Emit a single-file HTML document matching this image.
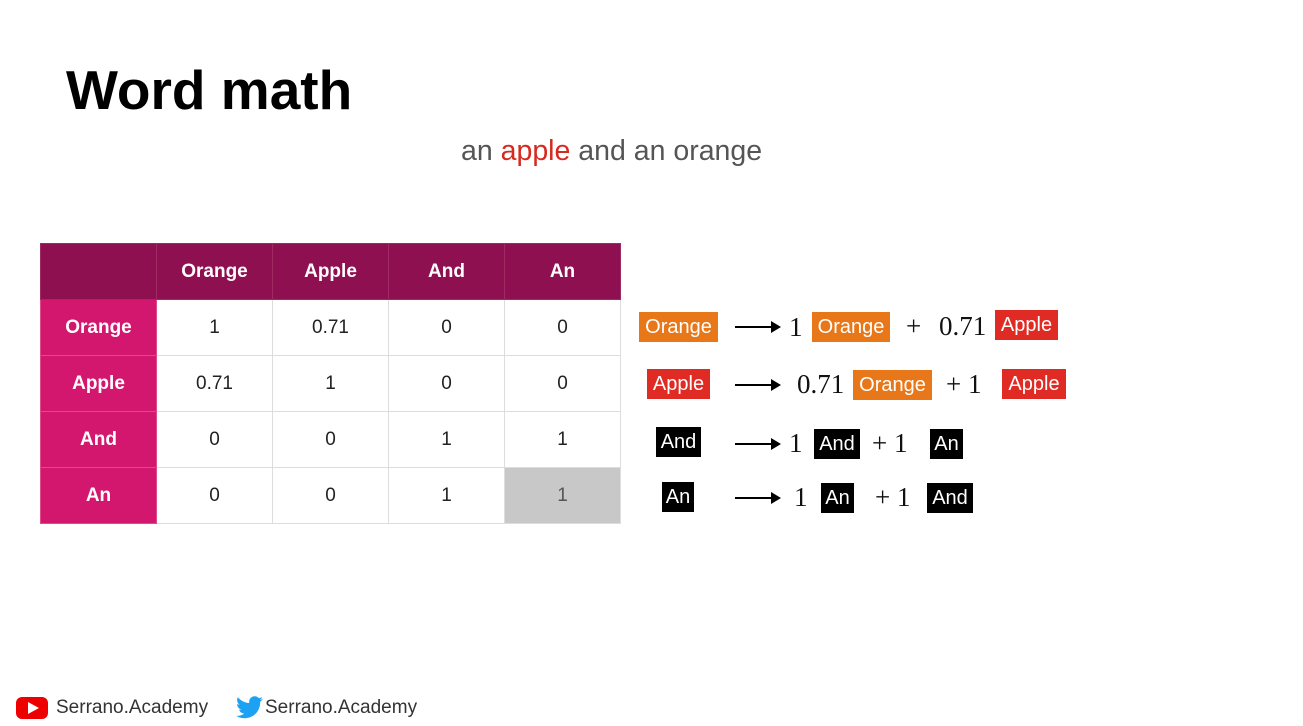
<!DOCTYPE html>
<html><head><meta charset="utf-8"><style>
body{margin:0;width:1303px;height:726px;background:#fff;position:relative;overflow:hidden;font-family:"Liberation Sans",Arial,sans-serif}
.a{position:absolute}
table{position:absolute;left:40px;top:243px;border-collapse:collapse;font-size:19px}
td{width:115px;height:55px;text-align:center;border:1px solid #ddd;padding:0;color:#222}
.h{background:#8e1050;color:#fff;font-weight:bold;border-color:#a02a62}
.r{background:#d4176e;color:#fff;font-weight:bold;border-color:#e04a88}
.g{background:#c8c8c8;color:#555}
.b{position:absolute;color:#fff;font-size:20px;height:30px;line-height:30px;text-align:center}
.o{background:#e8771a}.p{background:#e02a24}.k{background:#000}
.m{position:absolute;font-family:"Liberation Serif",serif;font-size:27px;color:#111;line-height:30px}
.ar{position:absolute;height:2px;width:38px;background:#000}
.ar:after{content:"";position:absolute;right:-8px;top:-5px;border-left:10px solid #000;border-top:6px solid transparent;border-bottom:6px solid transparent}
.f{position:absolute;top:697px;font-size:19px;color:#333}
</style></head><body>
<div class="a" style="left:66px;top:58px;font-size:55px;font-weight:bold;color:#000">Word math</div>
<div class="a" style="left:461px;top:135px;font-size:28.5px;color:#555">an <span style="color:#d42a20">apple</span> and an orange</div>
<table>
<tr><td class="h"></td><td class="h">Orange</td><td class="h">Apple</td><td class="h">And</td><td class="h">An</td></tr>
<tr><td class="r">Orange</td><td>1</td><td>0.71</td><td>0</td><td>0</td></tr>
<tr><td class="r">Apple</td><td>0.71</td><td>1</td><td>0</td><td>0</td></tr>
<tr><td class="r">And</td><td>0</td><td>0</td><td>1</td><td>1</td></tr>
<tr><td class="r">An</td><td>0</td><td>0</td><td>1</td><td class="g">1</td></tr>
</table>

<div class="b o" style="left:639px;top:312px;width:79px">Orange</div>
<div class="ar" style="left:735px;top:326px"></div>
<div class="m" style="left:789px;top:312px">1</div>
<div class="b o" style="left:812px;top:312px;width:78px">Orange</div>
<div class="m" style="left:906px;top:311px">+</div>
<div class="m" style="left:939px;top:311px">0.71</div>
<div class="b p" style="left:995px;top:310px;width:63px">Apple</div>

<div class="b p" style="left:647px;top:369px;width:63px">Apple</div>
<div class="ar" style="left:735px;top:384px"></div>
<div class="m" style="left:797px;top:369px">0.71</div>
<div class="b o" style="left:853px;top:370px;width:79px">Orange</div>
<div class="m" style="left:946px;top:369px">+ 1</div>
<div class="b p" style="left:1002px;top:369px;width:64px">Apple</div>

<div class="b k" style="left:656px;top:427px;width:45px">And</div>
<div class="ar" style="left:735px;top:443px"></div>
<div class="m" style="left:789px;top:428px">1</div>
<div class="b k" style="left:814px;top:429px;width:46px">And</div>
<div class="m" style="left:872px;top:428px">+ 1</div>
<div class="b k" style="left:930px;top:429px;width:33px">An</div>

<div class="b k" style="left:662px;top:482px;width:32px">An</div>
<div class="ar" style="left:735px;top:497px"></div>
<div class="m" style="left:794px;top:482px">1</div>
<div class="b k" style="left:821px;top:483px;width:33px">An</div>
<div class="m" style="left:875px;top:482px">+ 1</div>
<div class="b k" style="left:927px;top:483px;width:46px">And</div>

<div class="a" style="left:16px;top:697px;width:32px;height:22px;background:#e00;border-radius:6px"></div>
<div class="a" style="left:28px;top:702px;border-left:11px solid #fff;border-top:6px solid transparent;border-bottom:6px solid transparent"></div>
<div class="f" style="left:56px">Serrano.Academy</div>
<svg class="a" style="left:236px;top:696px" width="27" height="23" viewBox="0 0 24 20"><path fill="#1da1f2" d="M24 2.4c-.9.4-1.8.7-2.8.8 1-.6 1.8-1.6 2.2-2.7-1 .6-2 1-3.1 1.2C19.4.7 18.1 0 16.6 0c-2.7 0-4.9 2.2-4.9 4.9 0 .4 0 .8.1 1.1C7.7 5.8 4.1 3.9 1.7.9c-.4.7-.7 1.6-.7 2.5 0 1.7.9 3.2 2.2 4.1-.8 0-1.6-.2-2.2-.6v.1c0 2.4 1.7 4.4 3.9 4.8-.4.1-.8.2-1.3.2-.3 0-.6 0-.9-.1.6 2 2.4 3.4 4.6 3.4-1.7 1.3-3.8 2.1-6.1 2.1-.4 0-.8 0-1.2-.1 2.2 1.4 4.8 2.2 7.5 2.2 9.1 0 14-7.5 14-14v-.6c1-.7 1.8-1.6 2.5-2.5z"/></svg>
<div class="f" style="left:265px">Serrano.Academy</div>
</body></html>
